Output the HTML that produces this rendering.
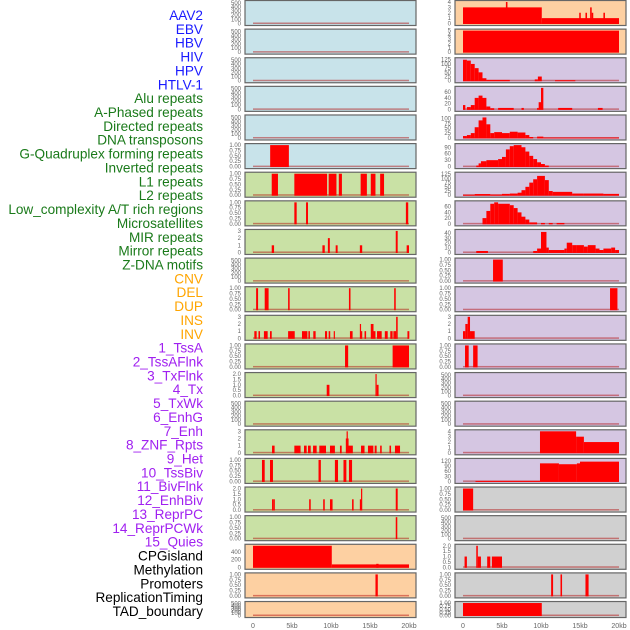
<!DOCTYPE html>
<html><head><meta charset="utf-8">
<style>
html,body{margin:0;padding:0;background:#fff;width:630px;height:630px;overflow:hidden}
svg{display:block;font-family:"Liberation Sans",sans-serif}
</style></head>
<body>
<svg id="chart" width="630" height="630"></svg>
<script>
const labels=["AAV2","EBV","HBV","HIV","HPV","HTLV-1","Alu repeats","A-Phased repeats","Directed repeats","DNA transposons","G-Quadruplex forming repeats","Inverted repeats","L1 repeats","L2 repeats","Low_complexity A/T rich regions","Microsatellites","MIR repeats","Mirror repeats","Z-DNA motifs","CNV","DEL","DUP","INS","INV","1_TssA","2_TssAFlnk","3_TxFlnk","4_Tx","5_TxWk","6_EnhG","7_Enh","8_ZNF_Rpts","9_Het","10_TssBiv","11_BivFlnk","12_EnhBiv","13_ReprPC","14_ReprPCWk","15_Quies","CPGisland","Methylation","Promoters","ReplicationTiming","TAD_boundary"];
const labelGroups=[0,0,0,0,0,0,1,1,1,1,1,1,1,1,1,1,1,1,1,2,2,2,2,2,3,3,3,3,3,3,3,3,3,3,3,3,3,3,3,4,4,4,4,4];
const xTicks=[0,5,10,15,20];
const xTickLabels=["0","5kb","10kb","15kb","20kb"];
const leftBg=["b","b","b","b","b","b","g","g","g","g","g","g","g","g","g","g","g","g","g","o","o","o"];
const rightBg=["o","o","p","p","p","p","p","p","p","p","p","p","p","p","p","p","p","y","y","y","y","y"];
const leftMax=[520,520,520,520,520,1,1,1,3,520,1,3,1,2,520,3,1,2,1,560,1,520];
const rightMax=[4,5,128,75,110,100,128,75,44,1,1,3,1,520,520,4,125,1,520,2,1,1];
const leftTicks=["T5","T5","T5","T5","T5","T1","T1","T1","T3","T5","T1","T3","T1","T2","T5","T3","T1","T2","T1","M","T1","T5"];
const rightTicks=["A4","A5","A125","A60","A100","A90","A125","A60","A40","T1","T1","T3","T1","T5","T5","A4","A120","T1","T5","T2","T1","T1"];
const leftBars=[[],[],[],[],[],
[[2.2,4.6,1]],
[[2.4,3.2,1],[5.3,9.5,1],[9.7,10.7,1],[11.0,11.4,1],[13.8,14.6,1],[15.1,15.7,1],[16.3,16.8,1]],
[[5.3,5.6,1],[6.8,7.05,1],[19.6,19.9,1]],
[[2.4,2.7,1],[8.9,9.2,1],[9.6,9.85,2],[10.6,10.85,1],[13.7,14.0,1],[18.3,18.55,3],[19.7,20,1]],
[],
[[0.4,0.65,1],[1.5,2.0,1],[4.5,4.7,1],[12.3,12.5,1],[18.1,18.3,1]],
[[0.17,0.47,1],[0.7,0.9,1],[1.4,1.88,1],[2.18,2.4,1],[4.5,5.35,1],[6.28,6.97,1],[7.1,7.3,1],[7.73,8.03,1],[9.23,9.5,1],[9.7,9.9,1],[10.35,10.5,1],[12.43,12.77,1],[13.7,13.85,2],[13.85,14.0,1],[14.3,14.5,1],[15.1,15.45,2],[15.45,15.7,1],[15.9,16.5,1],[16.9,17.27,1],[17.6,17.9,1],[18.0,18.2,1],[18.2,18.35,1],[18.35,18.55,3],[19.8,20.04,1]],
[[11.8,12.2,1],[17.9,20,1]],
[[9.45,9.8,1],[15.7,15.85,2],[15.85,16.1,1]],
[],
[[2.44,2.77,1],[5.3,6.1,1],[6.54,6.88,1],[7.05,7.4,1],[7.7,8.16,1],[8.5,9.36,1],[9.87,10.5,1],[11.15,11.37,1],[11.9,12.0,2],[12.0,12.1,3],[12.1,12.2,2],[12.2,12.8,1],[13.85,14.3,1],[14.74,15.43,1],[15.6,15.85,1],[16.3,16.5,1],[17.5,17.7,1],[18.2,18.85,1]],
[[1.15,1.5,1],[2.18,2.56,1],[8.4,8.7,1],[10.5,10.9,1],[11.6,11.97,1],[12.3,12.7,1]],
[[2.44,2.6,1],[2.6,2.8,1],[7.2,7.4,1],[9.0,9.2,1],[9.87,10.2,1],[12.7,12.9,1],[13.7,13.85,1],[13.85,14.0,2],[18.3,18.55,2]],
[[18.3,18.5,1]],
[[0,10.1,560],[10.1,20,75],[15.8,16.1,90]],
[[15.7,16.0,1]],
[]];
const rightBars=[
[[0,10.1,3],[5.5,5.7,4],[10.1,20,1],[14.9,15.1,2],[15.7,15.9,2],[16.3,16.5,3],[16.5,16.7,2],[18.0,18.2,2]],
[[0,20,5]],
[[0,0.5,125],[0.5,1,120],[1,1.5,100],[1.5,2,75],[2,2.5,50],[2.5,3,15],[3,6,5],[9.2,9.6,8],[9.6,10.1,25],[11.8,14.4,3]],
[[0,0.3,15],[0.5,1,8],[1,1.5,15],[1.5,2,40],[2,2.5,48],[2.5,3,40],[3,3.5,10],[3.5,4,4],[4.5,6.5,5],[7.5,7.8,5],[9.5,9.7,5],[9.7,10,25],[10,10.3,75],[12.2,14,5],[17.3,17.9,5]],
[[0,0.5,10],[0.5,1,15],[1,1.5,25],[1.5,2,55],[2,2.5,90],[2.5,3,105],[3,3.5,70],[3.5,4,25],[4,5,30],[5,6,25],[6,7,32],[7,8,28],[8,8.5,15],[8.5,9,5],[9.5,10.3,7],[10.3,20,2]],
[[1.7,2,5],[2,2.3,15],[2.3,3,25],[3,4.5,30],[4.5,5,35],[5,5.5,45],[5.5,6,80],[6,6.5,95],[6.5,7.5,100],[7.5,8,90],[8,8.5,70],[8.5,9,50],[9,9.5,35],[9.5,10,20],[10,10.5,12],[10.5,11,5]],
[[0,1.5,3],[1.5,3.5,7],[3.5,5,4],[5,6,8],[6,7,10],[7,7.5,15],[7.5,8,30],[8,8.5,50],[8.5,9,75],[9,9.5,95],[9.5,10.5,115],[10.5,11,90],[11,11.5,25],[11.5,14,20],[14,15.5,10],[15.5,18,10],[18,20,8]],
[[2.5,3,20],[3,3.5,45],[3.5,4,70],[4,4.5,75],[4.5,5,70],[5,6,70],[6,6.5,65],[6.5,7,55],[7,7.5,40],[7.5,8,25],[8,8.5,15],[8.5,9.5,5],[10,10.5,3],[11,11.5,3],[12,13,3]],
[[1.7,3.2,3],[9,9.5,3],[9.5,10,8],[10,10.7,42],[10.7,11,10],[11,13,5],[13,13.3,8],[13.3,14,20],[14,14.5,15],[14.5,15.5,15],[15.5,16,12],[16,17,15],[17,17.5,8],[17.5,18,5],[18,19,8],[19,19.5,10],[19.5,20,5]],
[[3.85,5.1,1]],
[[18.85,19.8,1]],
[[0,0.3,1],[0.3,0.6,2],[0.6,0.9,3],[0.9,1.5,1]],
[[0.26,0.73,1],[1.3,1.87,1]],
[],[],
[[9.87,14.5,4],[14.5,15.5,3],[15.5,20,2]],
[[1.6,9.87,3],[9.87,12.3,105],[12.3,14.6,100],[14.6,15,105],[15,20,115]],
[[0,1.3,1]],
[],
[[0.2,0.5,1],[1.7,1.9,2],[1.9,2.3,1],[3.1,3.5,1],[3.7,5.0,1]],
[[11.3,11.55,1],[12.5,12.7,1],[15.7,16.1,1]],
[[0,10.1,1]]];

const TICKSETS={
T5:[[0,"0"],[100,"100"],[200,"200"],[300,"300"],[400,"400"],[500,"500"]],
T1:[[0,"0.00"],[0.25,"0.25"],[0.5,"0.50"],[0.75,"0.75"],[1,"1.00"]],
T3:[[0,"0"],[1,"1"],[2,"2"],[3,"3"]],
T2:[[0,"0.0"],[0.5,"0.5"],[1,"1.0"],[1.5,"1.5"],[2,"2.0"]],
M:[[0,"0"],[200,"200"],[400,"400"]],
A4:[[0,"0"],[1,"1"],[2,"2"],[3,"3"],[4,"4"]],
A5:[[0,"0"],[1,"1"],[2,"2"],[3,"3"],[4,"4"],[5,"5"]],
A125:[[0,"0"],[25,"25"],[50,"50"],[75,"75"],[100,"100"],[125,"125"]],
A60:[[0,"0"],[20,"20"],[40,"40"],[60,"60"]],
A100:[[0,"0"],[25,"25"],[50,"50"],[75,"75"],[100,"100"]],
A90:[[0,"0"],[30,"30"],[60,"60"],[90,"90"]],
A40:[[0,"0"],[10,"10"],[20,"20"],[30,"30"],[40,"40"]],
A120:[[0,"0"],[30,"30"],[60,"60"],[90,"90"],[120,"120"]]};
const BG={b:"#c8e3ea",g:"#c9e1a5",o:"#fdd0a2",p:"#d5c6e2",y:"#d0d0d0"};
const LCOL=["#1a1aff","#1a7a1a","#ffa500","#a020f0","#000000"];

const svg=document.getElementById('chart');
const NS="http://www.w3.org/2000/svg";
function mk(tag,attrs,parent){const e=document.createElementNS(NS,tag);for(const k in attrs)e.setAttribute(k,attrs[k]);(parent||svg).appendChild(e);return e;}

labels.forEach((t,i)=>{
  const e=mk('text',{x:203,y:15+i*13.86+5,'text-anchor':'end','font-size':'13.6',fill:LCOL[labelGroups[i]]});
  e.textContent=t;
  
  
});

const COLS=[{px:245,x0:253,bg:leftBg,max:leftMax,ticks:leftTicks,bars:leftBars,side:'left'},
            {px:455,x0:463,bg:rightBg,max:rightMax,ticks:rightTicks,bars:rightBars,side:'right'}];
const KB=7.8;
COLS.forEach(c=>{
  const xs=kb=>c.x0+kb*KB;
  for(let r=0;r<22;r++){
    const top=0.5+r*28.62, h=(r===21?16:25);
    const g=mk('g',{});
    
    
    mk('rect',{x:c.px,y:top,width:171,height:h,fill:BG[c.bg[r]],stroke:'#666','stroke-width':1.2},g);
    const yb=top+h-2, yt=top+1.5;
    const ys=v=>yb-(v/c.max[r])*(yb-yt);
    TICKSETS[c.ticks[r]].forEach(([v,l])=>{
      const t=mk('text',{x:c.px-4,y:ys(v)+2,'text-anchor':'end','font-size':'6',fill:'#666'},g);
      t.textContent=l;
    });
    mk('rect',{x:xs(0),y:yb-1,width:xs(20)-xs(0),height:1.5,fill:'#b00000',opacity:0.45},g);
    c.bars[r].forEach(([a,b,v])=>{
      const yv=Math.max(ys(v),top+0.8);
      const bar=mk('rect',{x:xs(a),y:yv,width:Math.max(xs(b)-xs(a),1.2),height:yb-yv+0.5,fill:'#ff0000'},g);
      
      
    });
  }
  xTicks.forEach((k,i)=>{
    const t=mk('text',{x:xs(k),y:628,'text-anchor':'middle','font-size':'7',fill:'#666'});
    t.textContent=xTickLabels[i];
    
    
  });
});
</script>
</body></html>
